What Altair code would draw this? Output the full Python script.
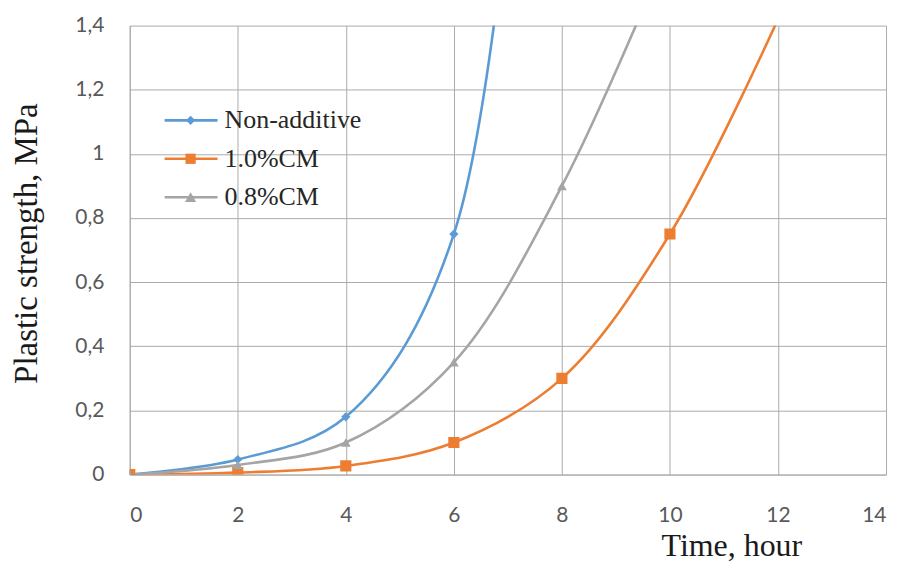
import altair as alt
import pandas as pd

# ---- data ----
series_names = ["Non-additive", "1.0%CM", "0.8%CM"]
colors = ["#5B9BD5", "#ED7D31", "#A5A5A5"]
marker_shapes = ["diamond", "square", "triangle-up"]
marker_sizes = [85, 125, 95]

t_non = [0, 2, 4, 6, 8]
v_non = [0, 0.047, 0.18, 0.75, 4.0]

t_cm10 = [0, 2, 4, 6, 8, 10, 12]
v_cm10 = [0, 0.006, 0.027, 0.1, 0.3, 0.75, 1.42]

t_cm08 = [0, 2, 4, 6, 8, 10]
v_cm08 = [0, 0.03, 0.1, 0.35, 0.9, 1.65]

x_ticks = [0, 2, 4, 6, 8, 10, 12, 14]
y_ticks = [0, 0.2, 0.4, 0.6, 0.8, 1.0, 1.2, 1.4]

rows = []
for name, ts, vs in [(series_names[0], t_non, v_non),
                     (series_names[1], t_cm10, v_cm10),
                     (series_names[2], t_cm08, v_cm08)]:
    for t, v in zip(ts, vs):
        rows.append({"series": name, "t": t, "v": v})
df = pd.DataFrame(rows)
legend_df = pd.DataFrame({"series": series_names})

stroke_scale = alt.Scale(domain=series_names, range=colors)

gridc = "#ababab"
x_enc = alt.X("t:Q", scale=alt.Scale(domain=[0, 14], nice=False),
              axis=alt.Axis(values=x_ticks, title="Time, hour", grid=True,
                            gridColor=gridc, domainColor=gridc, ticks=False, tickSize=0,
                            labelFont="Lato", labelFontSize=21, labelColor="#595959",
                            labelPadding=30,
                            titleFont="Liberation Serif", titleFontSize=32,
                            titleFontWeight="normal", titleColor="#1a1a1a",
                            titleX=603, titleY=81, titleAlign="center",
                            titleBaseline="alphabetic"))
y_enc = alt.Y("v:Q", scale=alt.Scale(domain=[0, 1.4], nice=False),
              axis=alt.Axis(values=y_ticks, title="Plastic strength, MPa", grid=True,
                            gridColor=gridc, domainColor=gridc, ticks=False, tickSize=0,
                            format="~g",
                            labelExpr="replace(datum.label, '.', ',')",
                            labelFont="Lato", labelFontSize=21, labelColor="#595959",
                            labelPadding=26,
                            titleFont="Liberation Serif", titleFontSize=33,
                            titleFontWeight="normal", titleColor="#1a1a1a",
                            titleX=-103, titleY=218, titleAlign="center",
                            titleBaseline="middle", titleAngle=-90))

base = alt.Chart(df)

lines = base.mark_line(interpolate="catmull-rom", strokeWidth=2.6, clip=True).encode(
    x=x_enc, y=y_enc,
    stroke=alt.Stroke("series:N", scale=stroke_scale, legend=None),
    detail="series:N",
)

point_layers = []
for name, col, shp, sz in zip(series_names, colors, marker_shapes, marker_sizes):
    point_layers.append(
        base.transform_filter((alt.datum.series == name) & (alt.datum.v <= 1.4))
        .mark_point(filled=True, opacity=1, size=sz, shape=shp, color=col, clip=True)
        .encode(x="t:Q", y="v:Q")
    )

main = alt.layer(lines, *point_layers)

# ---- legend drawn inside the plot (top-left), rows placed by a point scale ----
leg_base = alt.Chart(legend_df)
y_leg = alt.Y("series:N", scale=alt.Scale(type="point", domain=series_names,
                                          range=[95, 172], padding=0), axis=None)

leg_rule = leg_base.mark_rule(strokeWidth=2.6).encode(
    x=alt.value(35), x2=alt.value(88), y=y_leg,
    stroke=alt.Stroke("series:N", scale=stroke_scale, legend=None),
)
leg_pts = leg_base.mark_point(filled=True, opacity=1).encode(
    x=alt.value(61), y=y_leg,
    color=alt.Color("series:N", scale=alt.Scale(domain=series_names, range=colors),
                    legend=None),
    shape=alt.Shape("series:N", scale=alt.Scale(domain=series_names, range=marker_shapes),
                    legend=None),
    size=alt.Size("series:N", scale=alt.Scale(domain=series_names, range=marker_sizes),
                  legend=None),
)
leg_text = leg_base.mark_text(align="left", baseline="middle", font="Liberation Serif",
                              fontSize=26, color="#262626").encode(
    x=alt.value(95), y=y_leg, text="series:N",
)
legend = alt.layer(leg_rule, leg_pts, leg_text)

chart = alt.layer(main, legend).resolve_scale(y="independent").properties(
    width=758, height=450,
    autosize=alt.AutoSizeParams(type="none"),
    padding={"left": 122, "top": 17, "right": 10, "bottom": 88},
    background="white",
).configure_view(stroke=None)

chart.save("out.html", embed_options={"renderer": "svg", "actions": False})
